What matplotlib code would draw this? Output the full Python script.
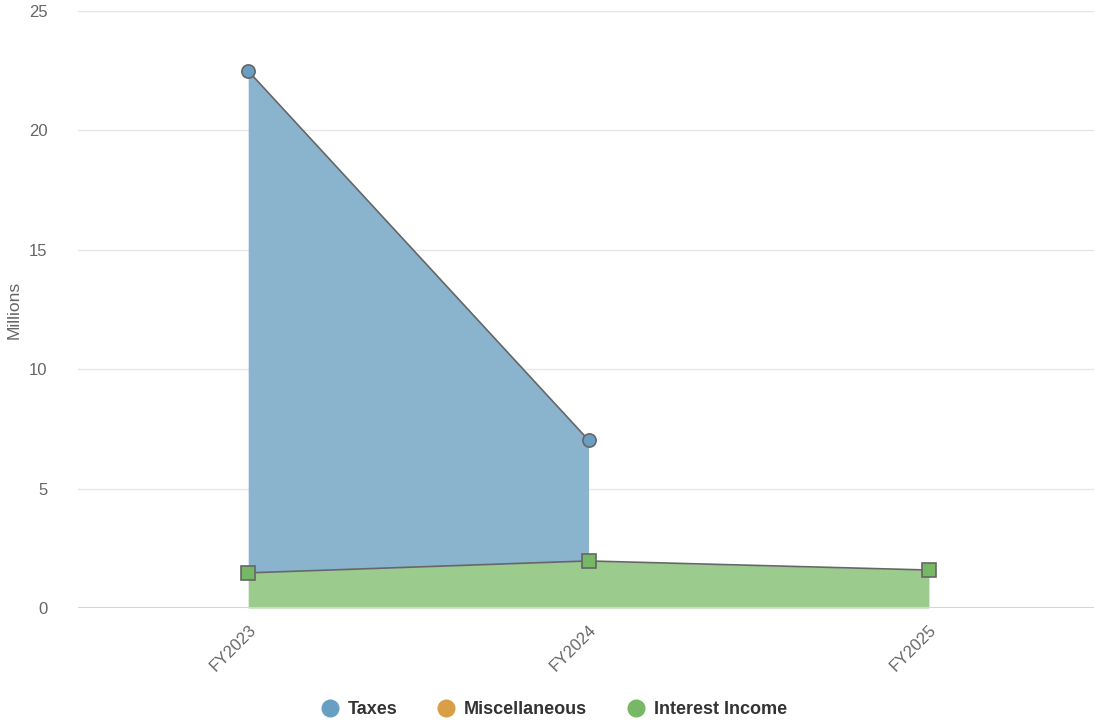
import matplotlib
matplotlib.use("Agg")
import matplotlib.pyplot as plt
from matplotlib.lines import Line2D
import numpy as np

years = ["FY2023", "FY2024", "FY2025"]
taxes = [21.02, 5.06, None]
misc = [None, None, None]
interest = [1.47, 1.97, 1.59]

blue = "#6a9fc4"
blue_fill = "#8ab3cd"
orange = "#d89f47"
green = "#76b866"
green_fill = "#9bcc8d"
line_col = "#666666"

plt.rcParams["font.family"] = ["Liberation Sans", "DejaVu Sans"]

fig = plt.figure(figsize=(10.94, 7.25), dpi=100)
ax = fig.add_axes([78 / 1094, 117 / 725, 1016 / 1094, 597 / 725])

x = np.arange(len(years))
inter = np.array(interest, dtype=float)

# stacked: interest at bottom, taxes on top
tx_idx = [i for i, v in enumerate(taxes) if v is not None]
tx_x = x[tx_idx]
tx_base = inter[tx_idx]
tx_top = tx_base + np.array([taxes[i] for i in tx_idx])

ax.fill_between(x, 0, inter, color=green_fill, lw=0, zorder=2)
ax.fill_between(tx_x, tx_base, tx_top, color=blue_fill, lw=0, zorder=2)

ax.plot(x, inter, color=line_col, lw=1.2, zorder=3)
ax.plot(tx_x, tx_top, color=line_col, lw=1.2, zorder=3)
ax.plot(x, inter, ls="none", marker="s", ms=9.5, mfc=green, mec=line_col, mew=1.2, zorder=4)
ax.plot(tx_x, tx_top, ls="none", marker="o", ms=9.5, mfc=blue, mec=line_col, mew=1.2, zorder=4)

ax.set_xlim(-0.5, 2.485)
ax.set_ylim(0, 25)
ax.set_yticks([0, 5, 10, 15, 20, 25])
ax.set_xticks(x)
ax.set_xticklabels(years, rotation=45, ha="right", rotation_mode="anchor")
ax.grid(axis="y", color="#e6e6e6", lw=1, zorder=0)
ax.set_axisbelow(True)
for s in ax.spines.values():
    s.set_visible(False)
ax.axhline(0, color="#ccd6eb", lw=1.5, zorder=5)
ax.tick_params(axis="both", length=0, colors="#666666", labelsize=12)
ax.tick_params(axis="y", pad=22)
ax.tick_params(axis="x", pad=10)
ax.set_ylabel("Millions", color="#666666", fontsize=12.5)
ax.yaxis.set_label_coords(-0.055, 0.5)

handles = [
    Line2D([], [], ls="none", marker="o", ms=13, mfc=blue, mec="none"),
    Line2D([], [], ls="none", marker="o", ms=13, mfc=orange, mec="none"),
    Line2D([], [], ls="none", marker="o", ms=13, mfc=green, mec="none"),
]
fig.legend(handles, ["Taxes", "Miscellaneous", "Interest Income"], loc="center",
           bbox_to_anchor=(553 / 1094, 1 - 710 / 725), ncol=3, frameon=False,
           prop={"weight": "bold", "size": 13}, labelcolor="#333333",
           handletextpad=0.4, columnspacing=2.1, handlelength=1.2)

fig.savefig("out.png", dpi=100)
